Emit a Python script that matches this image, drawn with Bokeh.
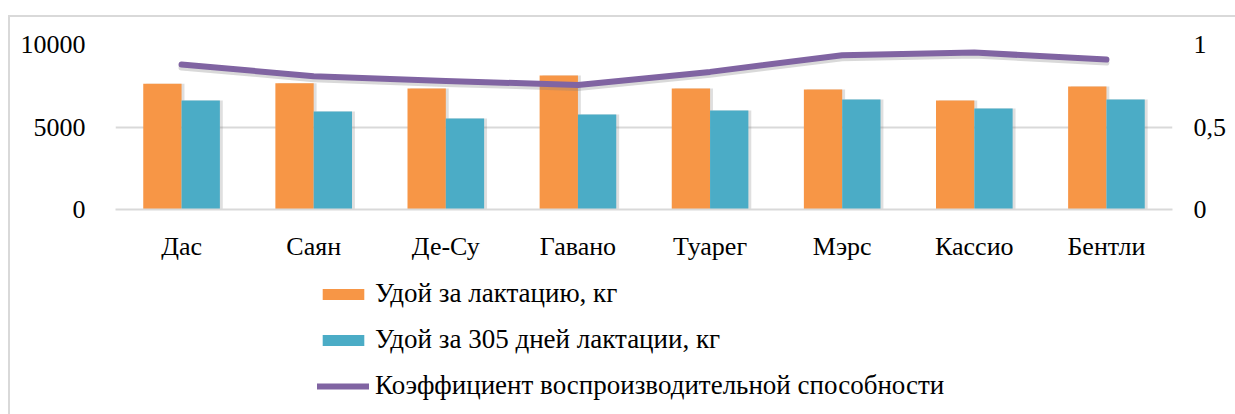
from bokeh.plotting import figure
from bokeh.layouts import column
from bokeh.models import (Range1d, LinearAxis, FactorRange, Legend, LegendItem,
                          CustomJSTickFormatter, FixedTicker, ColumnDataSource)
from bokeh.transform import dodge
from bokeh.embed import file_html
from bokeh.resources import INLINE

categories = ["Дас", "Саян", "Де-Су", "Гавано", "Туарег", "Мэрс", "Кассио", "Бентли"]
milk_lactation = [7620, 7655, 7330, 8120, 7330, 7270, 6600, 7450]
milk_305 = [6600, 5940, 5515, 5760, 6000, 6670, 6120, 6670]
repro_coef = [0.879, 0.808, 0.779, 0.755, 0.834, 0.935, 0.951, 0.909]
left_ticks = [0, 5000, 10000]
right_ticks = [0, 0.5, 1]

label_lact = "Удой за лактацию, кг"
label_305 = "Удой за 305 дней лактации, кг"
label_coef = "Коэффициент воспроизводительной способности"

FONT = "Liberation Serif"
FS = "26px"
ORANGE = "#F79646"
BLUE = "#4BACC6"
PURPLE = "#8064A2"

src = ColumnDataSource(dict(cat=categories, lact=milk_lactation, d305=milk_305, coef=repro_coef))

# main chart (page offset: 8px left margin + 2px border, 15px top margin + 2px border)
p = figure(width=1225, height=247, x_range=FactorRange(*categories, range_padding=0),
           y_range=Range1d(0, 10000), output_backend="svg", toolbar_location=None,
           min_border_left=105, min_border_right=63, min_border_top=27, min_border_bottom=55)
p.outline_line_color = None
p.background_fill_color = "white"
p.border_fill_color = "white"

p.extra_y_ranges = {"coef": Range1d(0, 1)}

# shadows
shadow_dx = 0.022
p.vbar(x=dodge("cat", -0.145 + shadow_dx, range=p.x_range), top="lact", width=0.29, source=src,
       fill_color="#808080", fill_alpha=0.25, line_color=None)
p.vbar(x=dodge("cat", 0.145 + shadow_dx, range=p.x_range), top="d305", width=0.29, source=src,
       fill_color="#808080", fill_alpha=0.25, line_color=None)

p.vbar(x=dodge("cat", -0.145, range=p.x_range), top="lact", width=0.29, source=src,
       fill_color=ORANGE, line_color=None)
p.vbar(x=dodge("cat", 0.145, range=p.x_range), top="d305", width=0.29, source=src,
       fill_color=BLUE, line_color=None)

src2 = ColumnDataSource(dict(cat=categories, coef=[c - 0.018 for c in repro_coef]))
p.line(x="cat", y="coef", source=src2, y_range_name="coef", line_color="#808080",
       line_alpha=0.3, line_width=6, line_cap="round", line_join="round")
p.line(x="cat", y="coef", source=src, y_range_name="coef", line_color=PURPLE,
       line_width=6, line_cap="round", line_join="round")

p.yaxis.ticker = FixedTicker(ticks=left_ticks)
p.yaxis.axis_line_color = None
p.yaxis.major_tick_line_color = None
p.yaxis.minor_tick_line_color = None
p.yaxis.major_label_text_font = FONT
p.yaxis.major_label_text_font_size = FS
p.yaxis.major_label_text_color = "black"
p.yaxis.major_label_standoff = 24

p.xaxis.axis_line_color = "#D9D9D9"
p.xaxis.axis_line_width = 2
p.xaxis.major_tick_line_color = None
p.xaxis.minor_tick_line_color = None
p.xaxis.major_label_text_font = FONT
p.xaxis.major_label_text_font_size = FS
p.xaxis.major_label_text_color = "black"
p.xaxis.major_label_standoff = 16

p.xgrid.grid_line_color = None
p.ygrid.ticker = FixedTicker(ticks=left_ticks)
p.ygrid.grid_line_color = "#D9D9D9"
p.ygrid.grid_line_width = 2

ax2 = LinearAxis(y_range_name="coef", ticker=FixedTicker(ticks=right_ticks),
                 formatter=CustomJSTickFormatter(code="return tick.toString().replace('.', ',');"))
ax2.axis_line_color = None
ax2.major_tick_line_color = None
ax2.minor_tick_line_color = None
ax2.major_label_text_font = FONT
ax2.major_label_text_font_size = FS
ax2.major_label_text_color = "black"
ax2.major_label_standoff = 15
p.add_layout(ax2, "right")

# legend figure below the chart (its renderers are hidden; only the legend is shown)
q = figure(width=1225, height=150, x_range=FactorRange(*categories), y_range=Range1d(0, 10000),
           output_backend="svg", toolbar_location=None,
           x_axis_location=None, y_axis_location=None,
           min_border_left=0, min_border_right=0, min_border_top=0, min_border_bottom=0)
q.grid.visible = False
q.outline_line_color = None
q.background_fill_color = "white"
q.border_fill_color = "white"
q.extra_y_ranges = {"coef": Range1d(0, 1)}
l1 = q.vbar(x="cat", top="lact", width=0.29, source=src, fill_color=ORANGE, line_color=None, visible=False)
l2 = q.vbar(x="cat", top="d305", width=0.29, source=src, fill_color=BLUE, line_color=None, visible=False)
l3 = q.line(x="cat", y="coef", source=src, y_range_name="coef", line_color=PURPLE,
            line_width=6, line_cap="round", visible=False)

legend = Legend(items=[LegendItem(label=label_lact, renderers=[l1]),
                       LegendItem(label=label_305, renderers=[l2]),
                       LegendItem(label=label_coef, renderers=[l3])],
                location=(202, 13), orientation="vertical")
legend.label_text_font = FONT
legend.label_text_font_size = "27px"
legend.label_text_color = "black"
legend.glyph_width = 52
legend.glyph_height = 14
legend.label_standoff = 6
legend.spacing = 15
legend.padding = 0
legend.margin = 0
legend.border_line_color = None
legend.background_fill_alpha = 0
legend.inactive_fill_alpha = 0
q.add_layout(legend, "center")

layout = column(p, q, spacing=0)
layout.styles = {"margin-left": "8px", "margin-top": "15px",
                 "border-left": "2px solid #D9D9D9", "border-top": "2px solid #D9D9D9"}

open("out.html", "w").write(file_html(layout, INLINE))
